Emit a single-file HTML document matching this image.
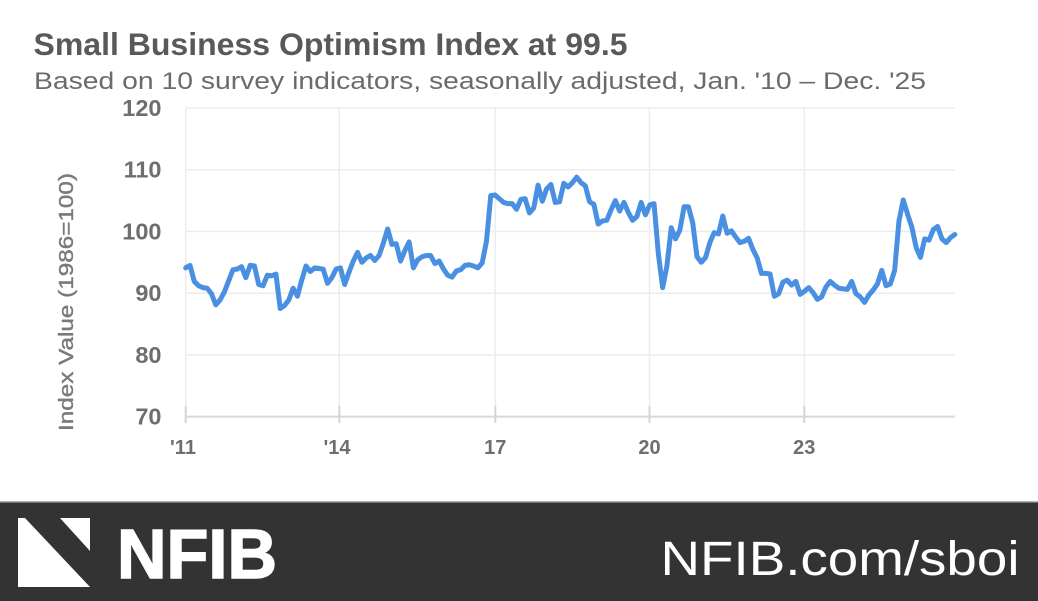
<!DOCTYPE html>
<html><head><meta charset="utf-8"><style>
html,body{margin:0;padding:0;background:#fff;width:1038px;height:601px;overflow:hidden}
svg{display:block}
</style></head><body>
<svg width="1038" height="601" viewBox="0 0 1038 601" xmlns="http://www.w3.org/2000/svg">
<rect x="0" y="0" width="1038" height="601" fill="#fff"/>
<text x="33.5" y="55" font-family="Liberation Sans, sans-serif" font-weight="bold" font-size="31.5" fill="#595959" textLength="594" lengthAdjust="spacingAndGlyphs">Small Business Optimism Index at 99.5</text>
<text x="34" y="89" font-family="Liberation Sans, sans-serif" font-size="24" fill="#6b6b6b" textLength="892" lengthAdjust="spacingAndGlyphs">Based on 10 survey indicators, seasonally adjusted,  Jan. '10 – Dec. '25</text>
<g stroke="#ececec" stroke-width="1.5" fill="none">
<line x1="185.7" y1="108" x2="955" y2="108"/>
<line x1="185.7" y1="169.7" x2="955" y2="169.7"/>
<line x1="185.7" y1="231.4" x2="955" y2="231.4"/>
<line x1="185.7" y1="293.2" x2="955" y2="293.2"/>
<line x1="185.7" y1="354.9" x2="955" y2="354.9"/>
<line x1="185.7" y1="108" x2="185.7" y2="416.6"/>
<line x1="339.3" y1="108" x2="339.3" y2="416.6"/>
<line x1="495.3" y1="108" x2="495.3" y2="416.6"/>
<line x1="649.5" y1="108" x2="649.5" y2="416.6"/>
<line x1="804.3" y1="108" x2="804.3" y2="416.6"/>
</g>
<line x1="185.7" y1="416.6" x2="955" y2="416.6" stroke="#d8d8d8" stroke-width="2"/>
<g stroke="#d4d4d4" stroke-width="2">
<line x1="185.7" y1="406" x2="185.7" y2="423"/>
<line x1="339.3" y1="406" x2="339.3" y2="423"/>
<line x1="495.3" y1="406" x2="495.3" y2="423"/>
<line x1="649.5" y1="406" x2="649.5" y2="423"/>
<line x1="804.3" y1="406" x2="804.3" y2="423"/>
</g>
<g font-family="Liberation Sans, sans-serif" font-weight="bold" font-size="23.5" fill="#6e6e6e" text-anchor="end">
<text x="161.5" y="116">120</text>
<text x="161.5" y="177.7">110</text>
<text x="161.5" y="239.4">100</text>
<text x="161.5" y="301.2">90</text>
<text x="161.5" y="362.9">80</text>
<text x="161.5" y="424.6">70</text>
</g>
<g font-family="Liberation Sans, sans-serif" font-weight="bold" font-size="20" fill="#6e6e6e" text-anchor="middle">
<text x="183" y="454">'11</text>
<text x="337" y="454">'14</text>
<text x="495.3" y="454">17</text>
<text x="649.5" y="454">20</text>
<text x="804.3" y="454">23</text>
</g>
<text transform="translate(73,302) rotate(-90)" text-anchor="middle" font-family="Liberation Sans, sans-serif" font-size="20" fill="#7a7a7a" stroke="#7a7a7a" stroke-width="0.4" textLength="258" lengthAdjust="spacingAndGlyphs">Index Value (1986=100)</text>
<g transform="matrix(4.2967 0 0 -6.172 185.7 848.64)">
<polyline fill="none" stroke="#4a90e2" stroke-width="5" stroke-linejoin="round" stroke-linecap="round" vector-effect="non-scaling-stroke" points="
0,94.1 1,94.5 2,91.9 3,91.2 4,90.9 5,90.8 6,89.9 7,88.1 8,88.9 9,90.2 10,92.0 11,93.8
12,93.9 13,94.3 14,92.5 15,94.5 16,94.4 17,91.4 18,91.2 19,92.9 20,92.8 21,93.1 22,87.5 23,88.0
24,88.9 25,90.8 26,89.5 27,92.1 28,94.4 29,93.5 30,94.1 31,94.0 32,93.9 33,91.6 34,92.5 35,93.9
36,94.1 37,91.4 38,93.4 39,95.2 40,96.6 41,95.0 42,95.7 43,96.1 44,95.3 45,96.1 46,98.1 47,100.4
48,97.9 49,98.0 50,95.2 51,96.9 52,98.3 53,94.1 54,95.4 55,95.9 56,96.1 57,96.1 58,94.8 59,95.2
60,93.9 61,92.9 62,92.6 63,93.6 64,93.8 65,94.5 66,94.6 67,94.4 68,94.1 69,94.9 70,98.4 71,105.8
72,105.9 73,105.3 74,104.7 75,104.5 76,104.5 77,103.6 78,105.2 79,105.3 80,103.0 81,103.8 82,107.5 83,104.9
84,106.9 85,107.6 86,104.7 87,104.8 88,107.8 89,107.2 90,107.9 91,108.8 92,107.9 93,107.4 94,104.8 95,104.4
96,101.2 97,101.7 98,101.8 99,103.5 100,105.0 101,103.3 102,104.7 103,103.1 104,101.8 105,102.4 106,104.7 107,102.7
108,104.3 109,104.5 110,96.4 111,90.9 112,94.4 113,100.6 114,98.8 115,100.2 116,104.0 117,104.0 118,101.4 119,95.9
120,95.0 121,95.8 122,98.2 123,99.8 124,99.6 125,102.5 126,99.7 127,100.1 128,99.1 129,98.2 130,98.4 131,98.9
132,97.1 133,95.7 134,93.2 135,93.2 136,93.1 137,89.5 138,89.9 139,91.8 140,92.1 141,91.3 142,91.9 143,89.8
144,90.3 145,90.9 146,90.1 147,89.0 148,89.4 149,91.0 150,91.9 151,91.3 152,90.8 153,90.7 154,90.6 155,91.9
156,89.9 157,89.4 158,88.5 159,89.7 160,90.5 161,91.5 162,93.7 163,91.2 164,91.5 165,93.7 166,101.7 167,105.1
168,102.8 169,100.7 170,97.4 171,95.8 172,98.8 173,98.6 174,100.3 175,100.8 176,98.8 177,98.2 178,99.0 179,99.5"/>
</g>
<rect x="0" y="501" width="1038" height="1.5" fill="#b5b5b5"/>
<rect x="0" y="502.5" width="1038" height="98.5" fill="#333333"/>
<polygon points="18,518 25,518 90,587 18,587" fill="#ffffff"/>
<polygon points="60,518 90,518 90,551" fill="#ffffff"/>
<text x="117" y="578" font-family="Liberation Sans, sans-serif" font-weight="bold" font-size="70" fill="#ffffff" stroke="#ffffff" stroke-width="1.5" textLength="160" lengthAdjust="spacingAndGlyphs">NFIB</text>
<text x="660.5" y="575" font-family="Liberation Sans, sans-serif" font-size="48" fill="#ffffff" textLength="359" lengthAdjust="spacingAndGlyphs">NFIB.com/sboi</text>
</svg>
</body></html>
